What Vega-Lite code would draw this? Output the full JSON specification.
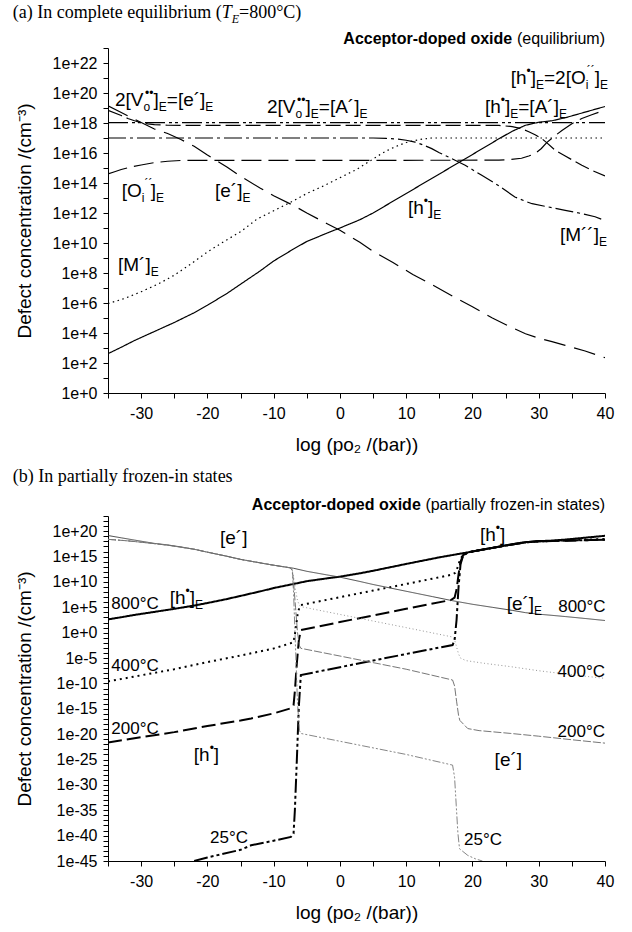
{
  "$schema": "https://vega.github.io/schema/vega-lite/v6.json",
  "background": "white",
  "padding": {"left": 12, "top": 4, "right": 10, "bottom": 5},
  "spacing": 14,
  "config": {
    "view": {"stroke": null},
    "text": {"font": "Liberation Sans", "color": "black"},
    "axis": {
      "labelFont": "Liberation Sans", "titleFont": "Liberation Sans",
      "labelColor": "black", "titleColor": "black", "domainColor": "black", "tickColor": "black",
      "grid": false, "labelFontSize": 16, "titleFontSize": 19, "titleFontWeight": "normal",
      "tickSize": 5, "labelFlush": false, "labelOverlap": false
    }
  },
  "datasets": {
    "eq": [
      {"s":"h","x":-35,"v":2.62},{"s":"h","x":-33,"v":3.05},{"s":"h","x":-31,"v":3.5},{"s":"h","x":-29,"v":3.9},{"s":"h","x":-27,"v":4.3},{"s":"h","x":-25,"v":4.7},{"s":"h","x":-22,"v":5.35},{"s":"h","x":-20,"v":5.85},{"s":"h","x":-17,"v":6.65},{"s":"h","x":-15,"v":7.25},{"s":"h","x":-12,"v":8.15},{"s":"h","x":-10,"v":8.8},{"s":"h","x":-7,"v":9.6},{"s":"h","x":-5,"v":10.1},{"s":"h","x":-2,"v":10.65},{"s":"h","x":0,"v":11.0},{"s":"h","x":3,"v":11.55},{"s":"h","x":5,"v":12.0},{"s":"h","x":10,"v":13.3},{"s":"h","x":15,"v":14.6},{"s":"h","x":20,"v":15.9},{"s":"h","x":24,"v":16.95},{"s":"h","x":26,"v":17.45},{"s":"h","x":28,"v":17.85},{"s":"h","x":30,"v":18.05},{"s":"h","x":32,"v":18.15},{"s":"h","x":34,"v":18.35},{"s":"h","x":36,"v":18.6},{"s":"h","x":38,"v":18.85},{"s":"h","x":40,"v":19.1},
      {"s":"e","x":-35,"v":19.15},{"s":"e","x":-33,"v":18.7},{"s":"e","x":-31,"v":18.25},{"s":"e","x":-28,"v":17.6},{"s":"e","x":-26,"v":17.3},{"s":"e","x":-24,"v":16.9},{"s":"e","x":-22,"v":16.45},{"s":"e","x":-20,"v":15.87},{"s":"e","x":-17,"v":15.05},{"s":"e","x":-15,"v":14.45},{"s":"e","x":-12,"v":13.65},{"s":"e","x":-10,"v":13.15},{"s":"e","x":-7,"v":12.5},{"s":"e","x":-5,"v":12.0},{"s":"e","x":-2,"v":11.3},{"s":"e","x":0,"v":10.85},{"s":"e","x":3,"v":10.05},{"s":"e","x":5,"v":9.45},{"s":"e","x":8,"v":8.7},{"s":"e","x":11,"v":7.9},{"s":"e","x":14,"v":7.2},{"s":"e","x":17,"v":6.45},{"s":"e","x":20,"v":5.75},{"s":"e","x":23,"v":5.0},{"s":"e","x":26,"v":4.35},{"s":"e","x":28,"v":3.95},{"s":"e","x":30,"v":3.65},{"s":"e","x":32,"v":3.42},{"s":"e","x":34,"v":3.18},{"s":"e","x":37,"v":2.8},{"s":"e","x":40,"v":2.35},
      {"s":"vo","x":-35,"v":18.84},{"s":"vo","x":-33,"v":18.5},{"s":"vo","x":-32,"v":18.3},{"s":"vo","x":-31,"v":18.15},{"s":"vo","x":-30,"v":18.02},{"s":"vo","x":-29,"v":17.94},{"s":"vo","x":-28,"v":17.89},{"s":"vo","x":-26,"v":17.85},{"s":"vo","x":-22,"v":17.84},{"s":"vo","x":0,"v":17.84},{"s":"vo","x":24,"v":17.84},{"s":"vo","x":26,"v":17.76},{"s":"vo","x":27.4,"v":17.62},{"s":"vo","x":28.5,"v":17.42},{"s":"vo","x":29.45,"v":17.22},{"s":"vo","x":30.4,"v":16.98},{"s":"vo","x":31.2,"v":16.69},{"s":"vo","x":32.5,"v":16.18},{"s":"vo","x":34,"v":15.8},{"s":"vo","x":36.5,"v":15.18},{"s":"vo","x":38,"v":14.85},{"s":"vo","x":40,"v":14.47},
      {"s":"oi","x":-35,"v":14.6},{"s":"oi","x":-34,"v":14.75},{"s":"oi","x":-33,"v":14.9},{"s":"oi","x":-31.5,"v":15.07},{"s":"oi","x":-30,"v":15.2},{"s":"oi","x":-28,"v":15.36},{"s":"oi","x":-26,"v":15.45},{"s":"oi","x":-24,"v":15.5},{"s":"oi","x":-20,"v":15.51},{"s":"oi","x":0,"v":15.51},{"s":"oi","x":24,"v":15.52},{"s":"oi","x":25.4,"v":15.56},{"s":"oi","x":27.4,"v":15.65},{"s":"oi","x":28.5,"v":15.8},{"s":"oi","x":29.45,"v":15.96},{"s":"oi","x":30.4,"v":16.3},{"s":"oi","x":31.2,"v":16.69},{"s":"oi","x":32.3,"v":17.1},{"s":"oi","x":33.5,"v":17.5},{"s":"oi","x":35,"v":17.95},{"s":"oi","x":36.5,"v":18.3},{"s":"oi","x":38,"v":18.55},{"s":"oi","x":40,"v":18.87},
      {"s":"m2","x":-35,"v":17.0},{"s":"m2","x":5,"v":17.0},{"s":"m2","x":7,"v":16.97},{"s":"m2","x":8.8,"v":16.93},{"s":"m2","x":10,"v":16.85},{"s":"m2","x":11.34,"v":16.73},{"s":"m2","x":12.5,"v":16.55},{"s":"m2","x":13.86,"v":16.29},{"s":"m2","x":15,"v":16.02},{"s":"m2","x":16.37,"v":15.73},{"s":"m2","x":18.9,"v":15.18},{"s":"m2","x":21.4,"v":14.51},{"s":"m2","x":23.9,"v":13.84},{"s":"m2","x":26.4,"v":13.07},{"s":"m2","x":28,"v":12.78},{"s":"m2","x":29,"v":12.62},{"s":"m2","x":31.5,"v":12.4},{"s":"m2","x":34,"v":12.18},{"s":"m2","x":36.5,"v":11.96},{"s":"m2","x":38.5,"v":11.75},{"s":"m2","x":40,"v":11.5},
      {"s":"m1","x":-35,"v":5.96},{"s":"m1","x":-32.5,"v":6.3},{"s":"m1","x":-30,"v":6.75},{"s":"m1","x":-27.5,"v":7.25},{"s":"m1","x":-25,"v":7.85},{"s":"m1","x":-22.5,"v":8.6},{"s":"m1","x":-20,"v":9.4},{"s":"m1","x":-17.5,"v":10.1},{"s":"m1","x":-15,"v":10.75},{"s":"m1","x":-12.5,"v":11.6},{"s":"m1","x":-10,"v":12.15},{"s":"m1","x":-7.5,"v":12.7},{"s":"m1","x":-5,"v":13.3},{"s":"m1","x":-2.5,"v":13.8},{"s":"m1","x":0,"v":14.35},{"s":"m1","x":2.5,"v":14.9},{"s":"m1","x":5,"v":15.6},{"s":"m1","x":6.3,"v":15.96},{"s":"m1","x":7.5,"v":16.25},{"s":"m1","x":8.8,"v":16.5},{"s":"m1","x":10,"v":16.7},{"s":"m1","x":11.34,"v":16.84},{"s":"m1","x":12.5,"v":16.93},{"s":"m1","x":13.86,"v":17.0},{"s":"m1","x":40,"v":17.0},
      {"s":"a","x":-35,"v":18.02},{"s":"a","x":40,"v":18.02}
    ],
    "fr": [
      {"s":"h800","x":-35,"v":2.62},{"s":"h800","x":-33,"v":3.05},{"s":"h800","x":-31,"v":3.5},{"s":"h800","x":-29,"v":3.9},{"s":"h800","x":-27,"v":4.3},{"s":"h800","x":-25,"v":4.7},{"s":"h800","x":-22,"v":5.35},{"s":"h800","x":-20,"v":5.85},{"s":"h800","x":-17,"v":6.65},{"s":"h800","x":-15,"v":7.25},{"s":"h800","x":-12,"v":8.15},{"s":"h800","x":-10,"v":8.8},{"s":"h800","x":-7,"v":9.6},{"s":"h800","x":-5,"v":10.15},{"s":"h800","x":-2,"v":10.7},{"s":"h800","x":0,"v":11.05},{"s":"h800","x":3,"v":11.7},{"s":"h800","x":5,"v":12.2},{"s":"h800","x":10,"v":13.55},{"s":"h800","x":15,"v":14.85},{"s":"h800","x":20,"v":16.0},{"s":"h800","x":24,"v":16.95},{"s":"h800","x":26,"v":17.45},{"s":"h800","x":28,"v":17.85},{"s":"h800","x":30,"v":18.05},{"s":"h800","x":32,"v":18.15},{"s":"h800","x":34,"v":18.35},{"s":"h800","x":36,"v":18.6},{"s":"h800","x":38,"v":18.85},{"s":"h800","x":40,"v":19.1},
      {"s":"e800","x":-35,"v":19.15},{"s":"e800","x":-33,"v":18.7},{"s":"e800","x":-31,"v":18.25},{"s":"e800","x":-28,"v":17.6},{"s":"e800","x":-26,"v":17.3},{"s":"e800","x":-24,"v":16.9},{"s":"e800","x":-22,"v":16.45},{"s":"e800","x":-20,"v":15.87},{"s":"e800","x":-17,"v":15.05},{"s":"e800","x":-15,"v":14.45},{"s":"e800","x":-12,"v":13.75},{"s":"e800","x":-10,"v":13.3},{"s":"e800","x":-7,"v":12.7},{"s":"e800","x":-5,"v":12.1},{"s":"e800","x":-2,"v":11.4},{"s":"e800","x":0,"v":10.95},{"s":"e800","x":3,"v":10.1},{"s":"e800","x":5,"v":9.5},{"s":"e800","x":8,"v":8.7},{"s":"e800","x":11,"v":7.9},{"s":"e800","x":14,"v":7.1},{"s":"e800","x":17,"v":6.3},{"s":"e800","x":20,"v":5.6},{"s":"e800","x":23,"v":5.0},{"s":"e800","x":26,"v":4.4},{"s":"e800","x":28,"v":3.95},{"s":"e800","x":30,"v":3.65},{"s":"e800","x":32,"v":3.42},{"s":"e800","x":34,"v":3.18},{"s":"e800","x":37,"v":2.8},{"s":"e800","x":40,"v":2.4},
      {"s":"h400","x":-35,"v":-9.6},{"s":"h400","x":-30,"v":-8.4},{"s":"h400","x":-25,"v":-7.2},{"s":"h400","x":-20,"v":-5.8},{"s":"h400","x":-15,"v":-4.5},{"s":"h400","x":-13.4,"v":-4.07},{"s":"h400","x":-10,"v":-3.1},{"s":"h400","x":-7.5,"v":-2.1},{"s":"h400","x":-7.0,"v":-1.85},{"s":"h400","x":-6.7,"v":0.5},{"s":"h400","x":-6.4,"v":3.5},{"s":"h400","x":-6.1,"v":5.1},{"s":"h400","x":-5.9,"v":5.45},{"s":"h400","x":0,"v":7.0},{"s":"h400","x":5,"v":8.3},{"s":"h400","x":10,"v":9.6},{"s":"h400","x":16.8,"v":11.4},{"s":"h400","x":17.4,"v":11.8},{"s":"h400","x":17.8,"v":13.0},{"s":"h400","x":18.1,"v":14.3},{"s":"h400","x":18.5,"v":15.2},{"s":"h400","x":19.2,"v":15.75},{"s":"h400","x":20,"v":16.0},{"s":"h400","x":24,"v":16.95},{"s":"h400","x":26,"v":17.4},{"s":"h400","x":28,"v":17.8},{"s":"h400","x":30,"v":18.0},{"s":"h400","x":33,"v":18.15},{"s":"h400","x":36,"v":18.3},{"s":"h400","x":40,"v":18.45},
      {"s":"h200","x":-35,"v":-21.65},{"s":"h200","x":-30,"v":-20.6},{"s":"h200","x":-25,"v":-19.6},{"s":"h200","x":-20,"v":-18.4},{"s":"h200","x":-15,"v":-17.3},{"s":"h200","x":-13.4,"v":-16.9},{"s":"h200","x":-10,"v":-15.9},{"s":"h200","x":-7.4,"v":-14.9},{"s":"h200","x":-7.0,"v":-14.3},{"s":"h200","x":-6.8,"v":-11.5},{"s":"h200","x":-6.5,"v":-6.0},{"s":"h200","x":-6.2,"v":-1.5},{"s":"h200","x":-5.9,"v":0.5},{"s":"h200","x":0,"v":2.1},{"s":"h200","x":5,"v":3.4},{"s":"h200","x":10,"v":4.7},{"s":"h200","x":16.8,"v":6.46},{"s":"h200","x":17.3,"v":6.9},{"s":"h200","x":17.6,"v":8.5},{"s":"h200","x":17.9,"v":11.5},{"s":"h200","x":18.2,"v":14.0},{"s":"h200","x":18.6,"v":15.3},{"s":"h200","x":19.3,"v":15.8},{"s":"h200","x":20,"v":16.0},{"s":"h200","x":24,"v":16.95},{"s":"h200","x":26,"v":17.4},{"s":"h200","x":28,"v":17.8},{"s":"h200","x":30,"v":18.0},{"s":"h200","x":33,"v":18.1},{"s":"h200","x":36,"v":18.2},{"s":"h200","x":40,"v":18.35},
      {"s":"h25","x":-22,"v":-45},{"s":"h25","x":-20,"v":-44.3},{"s":"h25","x":-15,"v":-42.8},{"s":"h25","x":-13.4,"v":-41.9},{"s":"h25","x":-10,"v":-41.0},{"s":"h25","x":-7.4,"v":-40.25},{"s":"h25","x":-7.0,"v":-39.6},{"s":"h25","x":-6.8,"v":-35},{"s":"h25","x":-6.5,"v":-25},{"s":"h25","x":-6.2,"v":-14.5},{"s":"h25","x":-5.9,"v":-8.35},{"s":"h25","x":0,"v":-6.8},{"s":"h25","x":5,"v":-5.5},{"s":"h25","x":10,"v":-4.2},{"s":"h25","x":17.0,"v":-2.43},{"s":"h25","x":17.3,"v":-1.5},{"s":"h25","x":17.6,"v":2.5},{"s":"h25","x":17.9,"v":9.0},{"s":"h25","x":18.2,"v":13.5},{"s":"h25","x":18.6,"v":15.2},{"s":"h25","x":19.3,"v":15.8},{"s":"h25","x":20,"v":16.0},{"s":"h25","x":24,"v":16.95},{"s":"h25","x":26,"v":17.4},{"s":"h25","x":28,"v":17.8},{"s":"h25","x":30,"v":18.0},{"s":"h25","x":33,"v":18.1},{"s":"h25","x":36,"v":18.2},{"s":"h25","x":40,"v":18.3},
      {"s":"e400","x":-35,"v":18.4},{"s":"e400","x":-32,"v":18.1},{"s":"e400","x":-29,"v":17.7},{"s":"e400","x":-26,"v":17.25},{"s":"e400","x":-22,"v":16.45},{"s":"e400","x":-20,"v":15.87},{"s":"e400","x":-17,"v":15.05},{"s":"e400","x":-15,"v":14.45},{"s":"e400","x":-12,"v":13.75},{"s":"e400","x":-10,"v":13.3},{"s":"e400","x":-7.6,"v":12.8},{"s":"e400","x":-7.2,"v":12.4},{"s":"e400","x":-7.0,"v":11.0},{"s":"e400","x":-6.7,"v":8.5},{"s":"e400","x":-6.4,"v":6.3},{"s":"e400","x":-6.1,"v":5.4},{"s":"e400","x":-5.9,"v":5.14},{"s":"e400","x":0,"v":3.6},{"s":"e400","x":5,"v":2.3},{"s":"e400","x":10,"v":1.0},{"s":"e400","x":16.8,"v":-0.8},{"s":"e400","x":17.3,"v":-1.4},{"s":"e400","x":17.6,"v":-2.8},{"s":"e400","x":17.9,"v":-4.2},{"s":"e400","x":18.2,"v":-5.0},{"s":"e400","x":19,"v":-5.5},{"s":"e400","x":21.8,"v":-6.04},{"s":"e400","x":25.8,"v":-6.7},{"s":"e400","x":30,"v":-7.5},{"s":"e400","x":35,"v":-8.3},{"s":"e400","x":40,"v":-9.0},
      {"s":"e200","x":-35,"v":18.4},{"s":"e200","x":-32,"v":18.1},{"s":"e200","x":-29,"v":17.7},{"s":"e200","x":-26,"v":17.25},{"s":"e200","x":-22,"v":16.45},{"s":"e200","x":-20,"v":15.87},{"s":"e200","x":-17,"v":15.05},{"s":"e200","x":-15,"v":14.45},{"s":"e200","x":-12,"v":13.75},{"s":"e200","x":-10,"v":13.3},{"s":"e200","x":-7.6,"v":12.8},{"s":"e200","x":-7.2,"v":12.4},{"s":"e200","x":-7.0,"v":10.0},{"s":"e200","x":-6.7,"v":5.0},{"s":"e200","x":-6.4,"v":0.0},{"s":"e200","x":-6.1,"v":-2.6},{"s":"e200","x":-5.9,"v":-3.08},{"s":"e200","x":0,"v":-4.6},{"s":"e200","x":5,"v":-5.9},{"s":"e200","x":10,"v":-7.2},{"s":"e200","x":17.0,"v":-9.33},{"s":"e200","x":17.3,"v":-10.5},{"s":"e200","x":17.6,"v":-13.5},{"s":"e200","x":17.9,"v":-16.3},{"s":"e200","x":18.1,"v":-17.3},{"s":"e200","x":19.3,"v":-18.9},{"s":"e200","x":21,"v":-19.3},{"s":"e200","x":25.8,"v":-19.86},{"s":"e200","x":30,"v":-20.4},{"s":"e200","x":35,"v":-21.1},{"s":"e200","x":40,"v":-21.77},
      {"s":"e25","x":-35,"v":18.4},{"s":"e25","x":-32,"v":18.1},{"s":"e25","x":-29,"v":17.7},{"s":"e25","x":-26,"v":17.25},{"s":"e25","x":-22,"v":16.45},{"s":"e25","x":-20,"v":15.87},{"s":"e25","x":-17,"v":15.05},{"s":"e25","x":-15,"v":14.45},{"s":"e25","x":-12,"v":13.75},{"s":"e25","x":-10,"v":13.3},{"s":"e25","x":-7.6,"v":12.8},{"s":"e25","x":-7.2,"v":12.4},{"s":"e25","x":-7.0,"v":8.0},{"s":"e25","x":-6.7,"v":-3.0},{"s":"e25","x":-6.4,"v":-14.0},{"s":"e25","x":-6.1,"v":-19.3},{"s":"e25","x":-5.9,"v":-19.86},{"s":"e25","x":0,"v":-21.4},{"s":"e25","x":5,"v":-22.7},{"s":"e25","x":10,"v":-24.0},{"s":"e25","x":17.0,"v":-26.1},{"s":"e25","x":17.3,"v":-28.5},{"s":"e25","x":17.55,"v":-34},{"s":"e25","x":17.8,"v":-39.5},{"s":"e25","x":18.05,"v":-42.6},{"s":"e25","x":19.3,"v":-43.9},{"s":"e25","x":20.5,"v":-44.6},{"s":"e25","x":21.5,"v":-45}
    ],
    "labT": [
      {"k":"m","x":-33.94,"v":19.55,"t":"2[V"},{"k":"b","x":-29.64,"v":19.55,"t":"o"},{"k":"p","x":-29.41,"v":19.55,"t":"••"},{"k":"m","x":-28.13,"v":19.55,"t":"]"},{"k":"b","x":-27.33,"v":19.55,"t":"E"},{"k":"m","x":-26.12,"v":19.55,"t":"=[e´]"},{"k":"b","x":-20.31,"v":19.55,"t":"E"},
      {"k":"m","x":-11.01,"v":19.09,"t":"2[V"},{"k":"b","x":-6.71,"v":19.09,"t":"o"},{"k":"p","x":-6.48,"v":19.09,"t":"••"},{"k":"m","x":-5.2,"v":19.09,"t":"]"},{"k":"b","x":-4.4,"v":19.09,"t":"E"},{"k":"m","x":-3.19,"v":19.09,"t":"=[A´]"},{"k":"b","x":2.94,"v":19.09,"t":"E"},
      {"k":"m","x":25.77,"v":21.02,"t":"[h"},{"k":"p","x":28.16,"v":21.02,"t":"•"},{"k":"m","x":28.79,"v":21.02,"t":"]"},{"k":"b","x":29.59,"v":21.02,"t":"E"},{"k":"m","x":30.79,"v":21.02,"t":"=2[O"},{"k":"b","x":37.09,"v":21.02,"t":"i"},{"k":"p","x":37.24,"v":21.02,"t":"´´"},{"k":"m","x":38.45,"v":21.02,"t":"]"},{"k":"b","x":39.24,"v":21.02,"t":"E"},
      {"k":"m","x":21.89,"v":19.09,"t":"[h"},{"k":"p","x":24.28,"v":19.09,"t":"•"},{"k":"m","x":24.91,"v":19.09,"t":"]"},{"k":"b","x":25.71,"v":19.09,"t":"E"},{"k":"m","x":26.91,"v":19.09,"t":"=[A´]"},{"k":"b","x":33.06,"v":19.09,"t":"E"},
      {"k":"m","x":-32.93,"v":13.44,"t":"[O"},{"k":"b","x":-29.9,"v":13.44,"t":"i"},{"k":"p","x":-29.5,"v":13.44,"t":"´´"},{"k":"m","x":-28.55,"v":13.44,"t":"]"},{"k":"b","x":-27.75,"v":13.44,"t":"E"},
      {"k":"m","x":-18.85,"v":13.44,"t":"[e´]"},{"k":"b","x":-14.71,"v":13.44,"t":"E"},
      {"k":"m","x":-33.49,"v":8.55,"t":"[M´]"},{"k":"b","x":-28.55,"v":8.55,"t":"E"},
      {"k":"m","x":10.27,"v":12.35,"t":"[h"},{"k":"p","x":12.66,"v":12.35,"t":"•"},{"k":"m","x":13.29,"v":12.35,"t":"]"},{"k":"b","x":14.09,"v":12.35,"t":"E"},
      {"k":"m","x":33.2,"v":10.55,"t":"[M´´]"},{"k":"b","x":39.09,"v":10.55,"t":"E"},
      {"k":"H","x":-49.38,"v":25.33,"t":"(a) In complete equilibrium ("},{"k":"I","x":-17.84,"v":25.33,"t":"T"},{"k":"J","x":-16.33,"v":25.33,"t":"E"},{"k":"H","x":-15.23,"v":25.33,"t":"=800°C)"},
      {"k":"B","x":26.0,"v":23.6,"t":"Acceptor-doped oxide"},{"k":"R","x":40,"v":23.6,"t":"(equilibrium)"}
    ],
    "labB": [
      {"k":"m","x":-18.1,"v":18.76,"t":"[e´]"},
      {"k":"m","x":21.13,"v":19.29,"t":"[h"},{"k":"p","x":23.52,"v":19.29,"t":"•"},{"k":"m","x":24.15,"v":19.29,"t":"]"},
      {"k":"m","x":-25.7,"v":6.91,"t":"[h"},{"k":"p","x":-23.31,"v":6.91,"t":"•"},{"k":"m","x":-22.68,"v":6.91,"t":"]"},{"k":"b","x":-21.88,"v":6.91,"t":"E"},
      {"k":"m","x":25.16,"v":5.73,"t":"[e´]"},{"k":"b","x":29.3,"v":5.73,"t":"E"},
      {"k":"m","x":-22.05,"v":-24.08,"t":"[h"},{"k":"p","x":-19.66,"v":-24.08,"t":"•"},{"k":"m","x":-19.03,"v":-24.08,"t":"]"},
      {"k":"m","x":23.34,"v":-25.0,"t":"[e´]"},
      {"k":"L","x":-34.5,"v":5.73,"t":"800°C"},{"k":"Q","x":40.1,"v":5.0,"t":"800°C"},
      {"k":"L","x":-34.5,"v":-6.6,"t":"400°C"},{"k":"Q","x":40,"v":-7.8,"t":"400°C"},
      {"k":"L","x":-34.5,"v":-19.0,"t":"200°C"},{"k":"Q","x":40,"v":-19.48,"t":"200°C"},
      {"k":"L","x":-19.6,"v":-40.52,"t":"25°C"},{"k":"L","x":18.72,"v":-40.86,"t":"25°C"},
      {"k":"H","x":-49.38,"v":30.6,"t":"(b) In partially frozen-in states"},
      {"k":"B","x":12.2,"v":25.07,"t":"Acceptor-doped oxide"},{"k":"R","x":40,"v":25.07,"t":"(partially frozen-in states)"}
    ]
  },
  "vconcat": [
    {
      "width": 497,
      "height": 345,
      "encoding": {
        "x": {"field": "x", "type": "quantitative",
          "scale": {"domain": [-35, 40], "nice": false, "zero": false},
          "axis": {"values": [-35,-30,-25,-20,-15,-10,-5,0,5,10,15,20,25,30,35,40],
            "labelExpr": "datum.value % 10 == 0 ? '' + datum.value : ''",
            "title": "log (po₂ /(bar))", "labelPadding": 7, "titlePadding": 14}},
        "y": {"field": "v", "type": "quantitative",
          "scale": {"domain": [0, 23], "nice": false, "zero": false},
          "axis": {"values": [0,1,2,3,4,5,6,7,8,9,10,11,12,13,14,15,16,17,18,19,20,21,22,23],
            "labelExpr": "datum.value % 2 == 0 ? '1e+' + datum.value : ''",
            "title": "Defect concentration /(cm⁻³)", "labelPadding": 6, "titlePadding": 18}}
      },
      "layer": [
        {"data": {"name": "eq"},
         "mark": {"type": "line", "color": "black", "strokeWidth": 1.2, "clip": true},
         "encoding": {
           "strokeDash": {"field": "s", "type": "nominal", "legend": null,
             "scale": {"domain": ["h","e","vo","oi","m2","m1","a"],
               "range": [[1,0],[22,9],[15,5],[20,7],[18,4,3,4],[1.5,3.5],[20,4,3,3,3,4]]}}
         }},
        {"data": {"name": "labT"}, "transform": [{"filter": "datum.k == 'm'"}],
         "mark": {"type": "text", "fontSize": 19, "align": "left", "baseline": "middle"},
         "encoding": {"text": {"field": "t"}}},
        {"data": {"name": "labT"}, "transform": [{"filter": "datum.k == 'b'"}],
         "mark": {"type": "text", "fontSize": 12, "align": "left", "baseline": "middle", "dy": 7},
         "encoding": {"text": {"field": "t"}}},
        {"data": {"name": "labT"}, "transform": [{"filter": "datum.k == 'p'"}],
         "mark": {"type": "text", "fontSize": 12, "align": "left", "baseline": "middle", "dy": -7},
         "encoding": {"text": {"field": "t"}}},
        {"data": {"name": "labT"}, "transform": [{"filter": "datum.k == 'H'"}],
         "mark": {"type": "text", "font": "Liberation Serif", "fontSize": 18, "align": "left", "baseline": "middle"},
         "encoding": {"text": {"field": "t"}}},
        {"data": {"name": "labT"}, "transform": [{"filter": "datum.k == 'I'"}],
         "mark": {"type": "text", "font": "Liberation Serif", "fontStyle": "italic", "fontSize": 18, "align": "left", "baseline": "middle"},
         "encoding": {"text": {"field": "t"}}},
        {"data": {"name": "labT"}, "transform": [{"filter": "datum.k == 'J'"}],
         "mark": {"type": "text", "font": "Liberation Serif", "fontStyle": "italic", "fontSize": 12, "align": "left", "baseline": "middle", "dy": 6},
         "encoding": {"text": {"field": "t"}}},
        {"data": {"name": "labT"}, "transform": [{"filter": "datum.k == 'B'"}],
         "mark": {"type": "text", "fontSize": 16, "fontWeight": "bold", "align": "right", "baseline": "middle"},
         "encoding": {"text": {"field": "t"}}},
        {"data": {"name": "labT"}, "transform": [{"filter": "datum.k == 'R'"}],
         "mark": {"type": "text", "fontSize": 16, "align": "right", "baseline": "middle"},
         "encoding": {"text": {"field": "t"}}}
      ]
    },
    {
      "width": 497,
      "height": 345,
      "resolve": {"scale": {"strokeDash": "independent", "color": "independent"}},
      "encoding": {
        "x": {"field": "x", "type": "quantitative",
          "scale": {"domain": [-35, 40], "nice": false, "zero": false},
          "axis": {"values": [-35,-30,-25,-20,-15,-10,-5,0,5,10,15,20,25,30,35,40],
            "labelExpr": "datum.value % 10 == 0 ? '' + datum.value : ''",
            "title": "log (po₂ /(bar))", "labelPadding": 7, "titlePadding": 14}},
        "y": {"field": "v", "type": "quantitative",
          "scale": {"domain": [-45, 23], "nice": false, "zero": false},
          "axis": {"values": [-45,-44,-43,-42,-41,-40,-39,-38,-37,-36,-35,-34,-33,-32,-31,-30,-29,-28,-27,-26,-25,-24,-23,-22,-21,-20,-19,-18,-17,-16,-15,-14,-13,-12,-11,-10,-9,-8,-7,-6,-5,-4,-3,-2,-1,0,1,2,3,4,5,6,7,8,9,10,11,12,13,14,15,16,17,18,19,20,21,22,23],
            "labelExpr": "datum.value % 5 == 0 ? (datum.value < 0 ? '1e' + datum.value : '1e+' + datum.value) : ''",
            "title": "Defect concentration /(cm⁻³)", "labelPadding": 6, "titlePadding": 18}}
      },
      "layer": [
        {"data": {"name": "fr"}, "transform": [{"filter": "indexof(datum.s, 'h') == 0"}],
         "mark": {"type": "line", "color": "black", "strokeWidth": 2, "clip": true},
         "encoding": {
           "strokeDash": {"field": "s", "type": "nominal", "legend": null,
             "scale": {"domain": ["h800","h400","h200","h25"],
               "range": [[1,0],[2,4],[14,5],[14,3,3,3,3,3]]}}
         }},
        {"data": {"name": "fr"}, "transform": [{"filter": "indexof(datum.s, 'e') == 0"}],
         "mark": {"type": "line", "strokeWidth": 0.9, "clip": true},
         "encoding": {
           "strokeDash": {"field": "s", "type": "nominal", "legend": null,
             "scale": {"domain": ["e800","e400","e200","e25"],
               "range": [[1,0],[1,2.5],[8,2],[8,2,2,2,2,2]]}},
           "color": {"field": "s", "type": "nominal", "legend": null,
             "scale": {"domain": ["e800","e400","e200","e25"], "range": ["#333333","#888888","#666666","#777777"]}}
         }},
        {"data": {"name": "labB"}, "transform": [{"filter": "datum.k == 'm'"}],
         "mark": {"type": "text", "fontSize": 19, "align": "left", "baseline": "middle"},
         "encoding": {"text": {"field": "t"}}},
        {"data": {"name": "labB"}, "transform": [{"filter": "datum.k == 'b'"}],
         "mark": {"type": "text", "fontSize": 12, "align": "left", "baseline": "middle", "dy": 7},
         "encoding": {"text": {"field": "t"}}},
        {"data": {"name": "labB"}, "transform": [{"filter": "datum.k == 'p'"}],
         "mark": {"type": "text", "fontSize": 12, "align": "left", "baseline": "middle", "dy": -7},
         "encoding": {"text": {"field": "t"}}},
        {"data": {"name": "labB"}, "transform": [{"filter": "datum.k == 'L'"}],
         "mark": {"type": "text", "fontSize": 17, "align": "left", "baseline": "middle"},
         "encoding": {"text": {"field": "t"}}},
        {"data": {"name": "labB"}, "transform": [{"filter": "datum.k == 'Q'"}],
         "mark": {"type": "text", "fontSize": 17, "align": "right", "baseline": "middle"},
         "encoding": {"text": {"field": "t"}}},
        {"data": {"name": "labB"}, "transform": [{"filter": "datum.k == 'H'"}],
         "mark": {"type": "text", "font": "Liberation Serif", "fontSize": 18, "align": "left", "baseline": "middle"},
         "encoding": {"text": {"field": "t"}}},
        {"data": {"name": "labB"}, "transform": [{"filter": "datum.k == 'B'"}],
         "mark": {"type": "text", "fontSize": 16, "fontWeight": "bold", "align": "right", "baseline": "middle"},
         "encoding": {"text": {"field": "t"}}},
        {"data": {"name": "labB"}, "transform": [{"filter": "datum.k == 'R'"}],
         "mark": {"type": "text", "fontSize": 16, "align": "right", "baseline": "middle"},
         "encoding": {"text": {"field": "t"}}}
      ]
    }
  ]
}
